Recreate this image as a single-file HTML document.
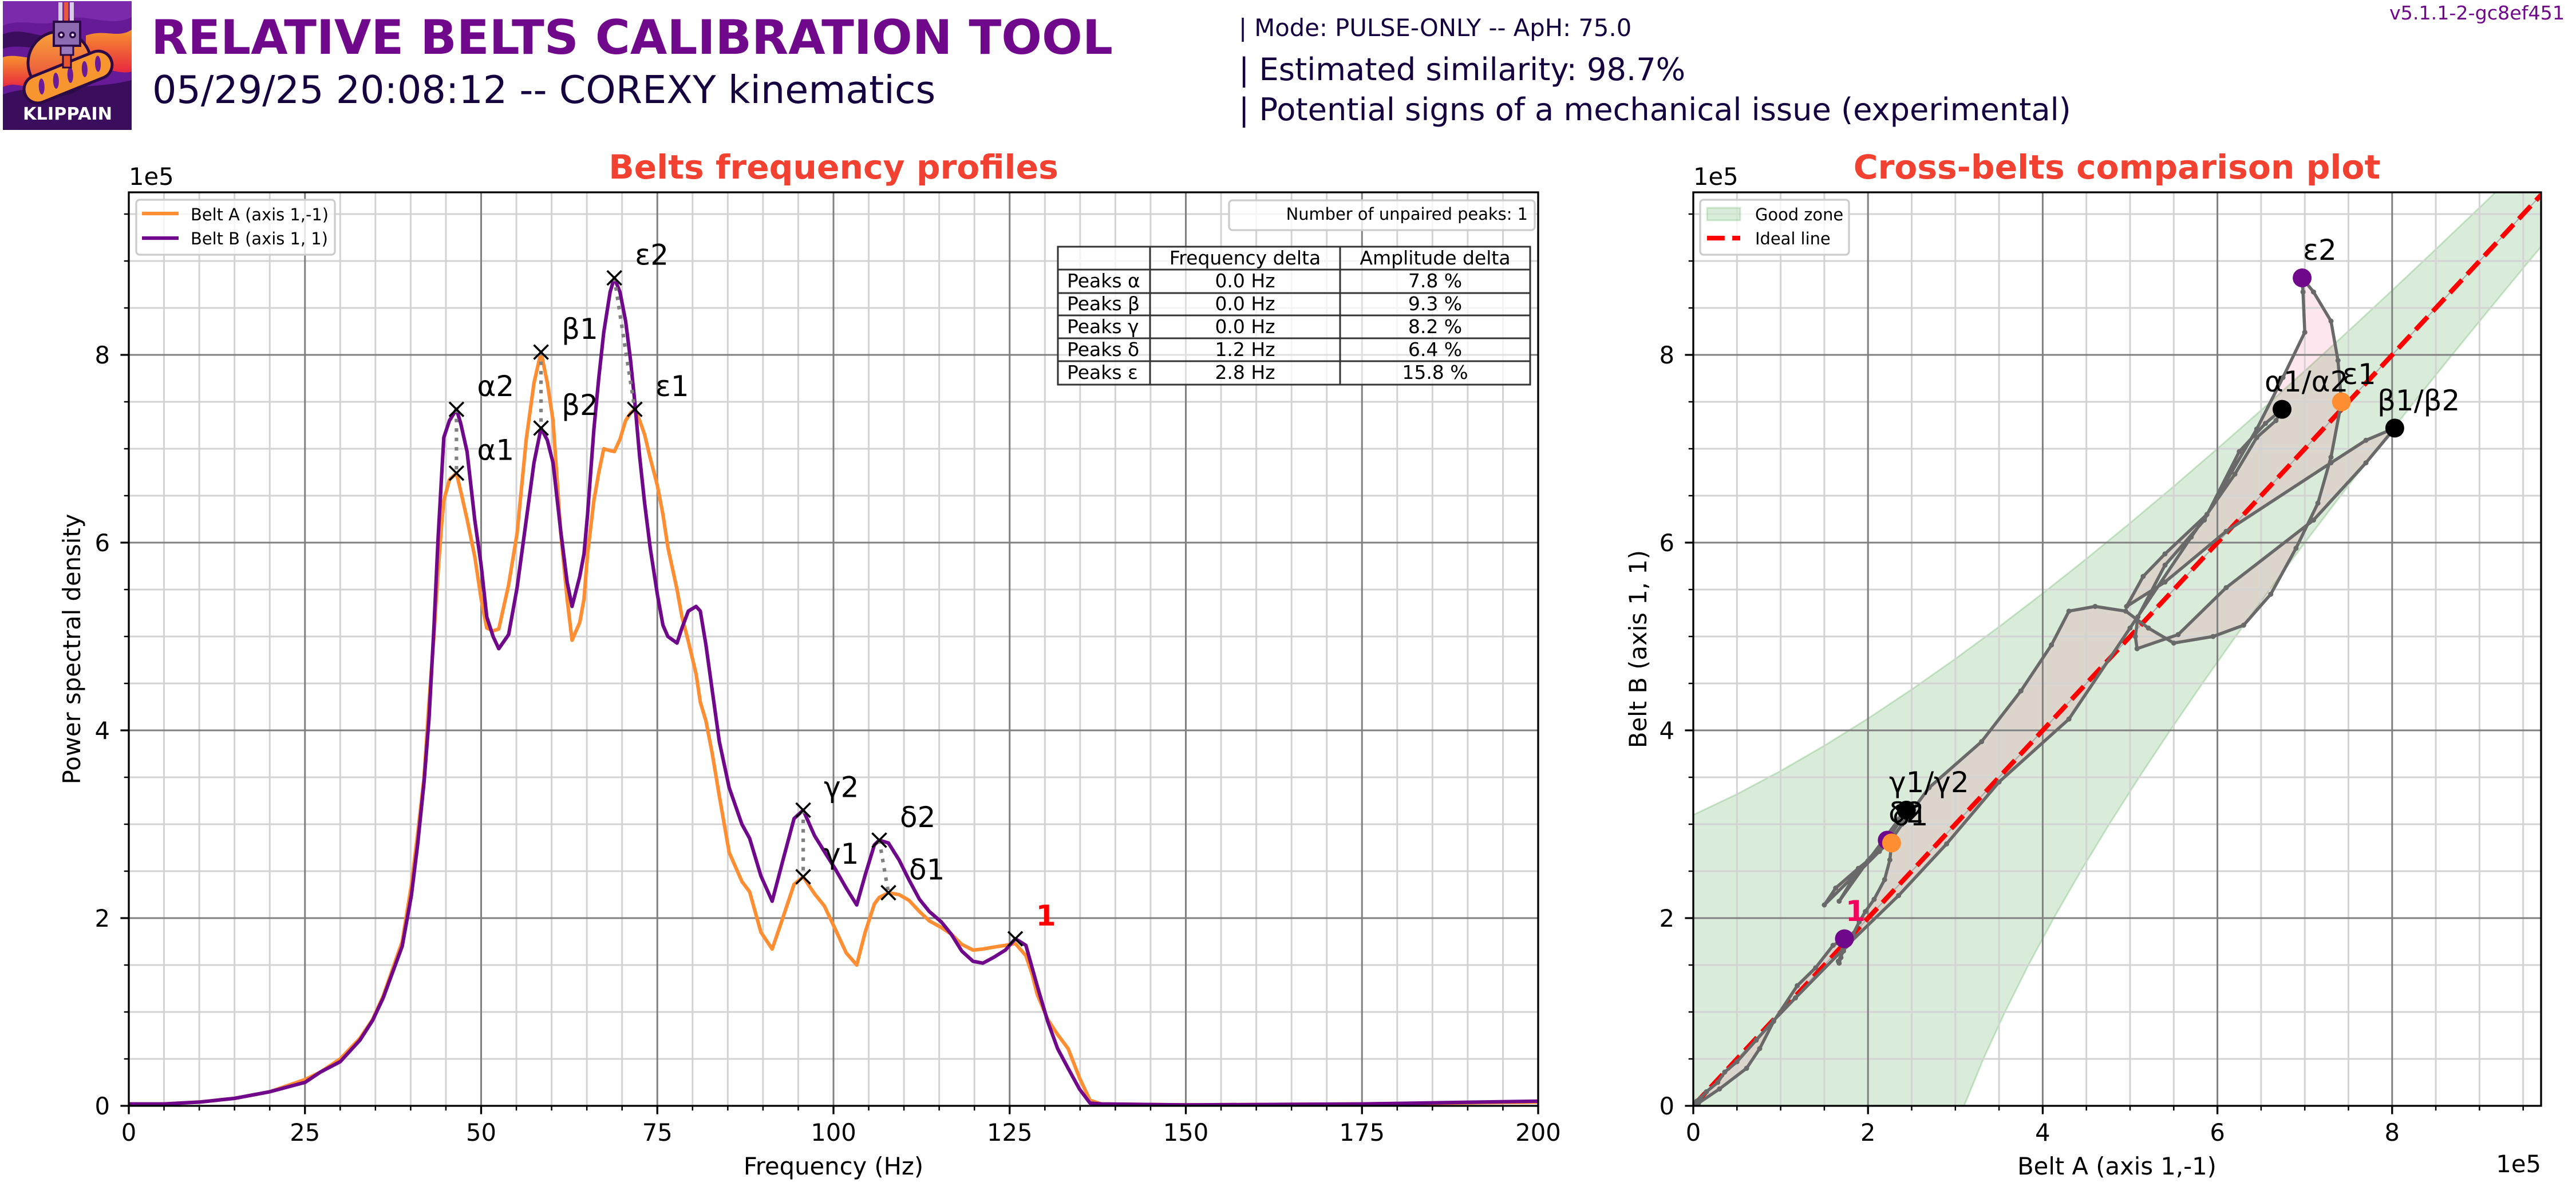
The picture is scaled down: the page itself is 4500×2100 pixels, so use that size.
<!DOCTYPE html>
<html>
<head>
<meta charset="utf-8">
<style>
html,body{margin:0;padding:0;background:#fff;}
svg{display:block;}
text{font-family:"DejaVu Sans","Liberation Sans",sans-serif;}
.tk{font-size:41.7px;fill:#000;}
.lg{font-size:28.9px;fill:#000;}
.tb{font-size:33px;fill:#000;}
.pk{font-size:50px;fill:#000;}
</style>
</head>
<body>
<svg width="4500" height="2100" viewBox="0 0 4500 2100" xmlns="http://www.w3.org/2000/svg">
<defs>
<clipPath id="cl"><rect x="225" y="336" width="2462" height="1596"/></clipPath>
<clipPath id="cr"><rect x="2958" y="336" width="1481" height="1596"/></clipPath>
<clipPath id="clogo"><rect x="5" y="2" width="225" height="225"/></clipPath>
<linearGradient id="gcirc" x1="0" y1="0" x2="0" y2="1"><stop offset="0" stop-color="#F9A43A"/><stop offset="1" stop-color="#E53A3C"/></linearGradient>
<linearGradient id="gband" x1="0" y1="0" x2="0" y2="1"><stop offset="0" stop-color="#F7922F"/><stop offset="1" stop-color="#E8283F"/></linearGradient>
<marker id="gd" viewBox="-5 -5 10 10" markerWidth="10" markerHeight="10" markerUnits="userSpaceOnUse" refX="0" refY="0"><circle r="4.5" fill="#696969"/></marker>
</defs>
<rect x="0" y="0" width="4500" height="2100" fill="#fff"/>

<!-- LOGO -->
<g clip-path="url(#clogo)">
<rect x="5" y="2" width="225" height="225" fill="#661A96"/>
<path d="M5,2 L230,2 L230,30 C190,50 150,20 110,35 C70,50 40,30 5,45 Z" fill="#7A2AAA"/>
<path d="M5,60 C40,45 70,70 95,60 L95,80 C60,90 35,75 5,85 Z" fill="#3B0D5E"/>
<path d="M5,100 C30,92 55,108 75,98 L75,150 C50,160 30,140 5,152 Z" fill="url(#gband)"/>
<path d="M150,62 C185,50 205,68 230,52 L230,125 C205,132 180,112 150,122 Z" fill="url(#gband)"/>
<path d="M5,165 C60,145 150,160 230,140 L230,227 L5,227 Z" fill="#3A0E5C"/>
<circle cx="104" cy="110" r="55" fill="url(#gcirc)" stroke="#2B0A45" stroke-width="5"/>
<g transform="rotate(-22 118 135)">
<rect x="38" y="111" width="162" height="48" rx="24" fill="#F7952F" stroke="#2B0A45" stroke-width="5"/>
<ellipse cx="70" cy="133" rx="5" ry="14" fill="#6A1B9A" transform="rotate(20 70 133)"/>
<ellipse cx="97" cy="133" rx="5" ry="14" fill="#6A1B9A" transform="rotate(20 97 133)"/>
<ellipse cx="124" cy="133" rx="5" ry="14" fill="#6A1B9A" transform="rotate(20 124 133)"/>
<ellipse cx="151" cy="133" rx="5" ry="14" fill="#6A1B9A" transform="rotate(20 151 133)"/>
<ellipse cx="176" cy="133" rx="5" ry="14" fill="#6A1B9A" transform="rotate(20 176 133)"/>
</g>
<rect x="102" y="4" width="7" height="36" fill="#D9C8EA"/>
<rect x="112" y="4" width="7" height="36" fill="#E8583A"/>
<rect x="122" y="4" width="7" height="36" fill="#D9C8EA"/>
<rect x="94" y="38" width="46" height="42" fill="#8C6BB0" stroke="#2B0A45" stroke-width="4"/>
<circle cx="107" cy="61" r="6" fill="#2B0A45"/><circle cx="107" cy="61" r="2.5" fill="#E8DDF2"/>
<circle cx="127" cy="61" r="6" fill="#2B0A45"/><circle cx="127" cy="61" r="2.5" fill="#E8DDF2"/>
<rect x="106" y="80" width="22" height="16" fill="#9A7ABD" stroke="#2B0A45" stroke-width="3"/>
<rect x="110" y="96" width="14" height="22" fill="#E8542E" stroke="#2B0A45" stroke-width="3"/>
<text x="118" y="209" text-anchor="middle" font-size="30" font-weight="bold" fill="#fff" textLength="156" lengthAdjust="spacingAndGlyphs">KLIPPAIN</text>
</g>

<!-- HEADER -->
<text x="264" y="94" font-size="83.3" font-weight="bold" fill="#70088C">RELATIVE BELTS CALIBRATION TOOL</text>
<text x="266" y="180" font-size="66.7" fill="#150140">05/29/25 20:08:12 -- COREXY kinematics</text>
<text x="2164" y="63" font-size="41.7" fill="#150140">| Mode: PULSE-ONLY -- ApH: 75.0</text>
<text x="2164" y="140" font-size="54.2" fill="#150140">| Estimated similarity: 98.7%</text>
<text x="2164" y="210" font-size="54.2" fill="#150140">| Potential signs of a mechanical issue (experimental)</text>
<text x="4480" y="34" font-size="33.3" fill="#70088C" text-anchor="end">v5.1.1-2-gc8ef451</text>

<!-- ================= LEFT PLOT ================= -->
<text x="1456" y="312" font-size="58.3" font-weight="bold" fill="#F24130" text-anchor="middle">Belts frequency profiles</text>
<text class="tk" x="225" y="323">1e5</text>

<!-- grid -->
<path fill="none" stroke="#D3D3D3" stroke-width="3" d="M286.55 336V1932M348.1 336V1932M409.65 336V1932M471.2 336V1932M594.3 336V1932M655.85 336V1932M717.4 336V1932M778.95 336V1932M902.05 336V1932M963.6 336V1932M1025.15 336V1932M1086.7 336V1932M1209.8 336V1932M1271.35 336V1932M1332.9 336V1932M1394.45 336V1932M1517.55 336V1932M1579.1 336V1932M1640.65 336V1932M1702.2 336V1932M1825.3 336V1932M1886.85 336V1932M1948.4 336V1932M2009.95 336V1932M2133.05 336V1932M2194.6 336V1932M2256.15 336V1932M2317.7 336V1932M2440.8 336V1932M2502.35 336V1932M2563.9 336V1932M2625.45 336V1932M225 1850H2687M225 1768H2687M225 1686H2687M225 1522H2687M225 1440H2687M225 1358H2687M225 1194H2687M225 1112H2687M225 1030H2687M225 866H2687M225 784H2687M225 702H2687M225 538H2687M225 456H2687M225 374H2687"/>
<path fill="none" stroke="#808080" stroke-width="3" d="M532.75 336V1932M840.5 336V1932M1148.25 336V1932M1456 336V1932M1763.75 336V1932M2071.5 336V1932M2379.25 336V1932M225 1604H2687M225 1276H2687M225 948H2687M225 620H2687"/>

<g clip-path="url(#cl)">
<polyline fill="none" stroke="#FF8D32" stroke-width="6.2" stroke-linejoin="round" points="225,1928.7 286.6,1928.7 348.1,1925.4 409.7,1918.9 471.2,1907.4 532.8,1886.1 559.8,1873 594.3,1850 628.8,1813.9 650.9,1781.1 669.4,1740.1 702.6,1645 718.6,1546.6 729.7,1456.4 740.8,1358 749.4,1226.8 758,1112 765.4,997.2 771.6,915.2 775.3,874.2 785.1,838.1 797.4,826.6 804.8,857.8 815.9,907 829.4,972.6 840.5,1046.4 850.3,1097.2 861.4,1102.2 871.3,1098.9 888.5,1021.8 903.3,931.6 919.3,767.6 932.8,669.2 945.1,615.1 956.2,669.2 966.1,734.8 979.6,931.6 990.7,1046.4 999.3,1118.6 1012.8,1087.4 1020.2,1046.4 1026.4,967.7 1037.5,874.2 1046.1,825 1054.7,784 1065.8,787.3 1073.2,788.9 1083,767.6 1092.9,734.8 1101.5,721.7 1108.9,715.1 1117.5,734.8 1126.1,759.4 1135.9,800.4 1148.3,848 1158.1,898.8 1166.7,956.2 1182.7,1030 1191.3,1077.6 1202.4,1120.2 1216,1177.6 1223.4,1226.8 1233.2,1259.6 1244.3,1317 1256.6,1390.8 1273.8,1489.2 1296,1540 1309.5,1558.1 1329.2,1628.6 1348.9,1658.1 1367.4,1604 1387.1,1545 1403.1,1531.8 1422.8,1561.4 1440,1582.7 1458.5,1622 1478.2,1664.7 1496.6,1686 1511.4,1628.6 1527.4,1579.4 1536,1567.9 1552,1559.7 1570.5,1563 1587.7,1572.8 1606.2,1592.5 1623.4,1608.9 1644.3,1620.4 1661.6,1631.9 1680,1649.9 1699.7,1659.8 1717,1658.1 1735.4,1654.8 1756.4,1651.6 1773.6,1648.3 1792.1,1669.6 1803.1,1702.4 1811.8,1736.8 1830.2,1781.1 1847.5,1807.4 1865.9,1832 1885.6,1882.8 1904.1,1922.2 1923.8,1928.7 2071.5,1930.4 2379.3,1928.7 2687,1925.4"/>
<polyline fill="none" stroke="#70088C" stroke-width="6.2" stroke-linejoin="round" points="225,1928.7 286.6,1928.7 348.1,1925.4 409.7,1918.9 471.2,1907.4 532.8,1891 559.8,1873 594.3,1854.9 628.8,1817.2 650.9,1782.8 669.4,1743.4 702.6,1653.2 718.6,1564.6 729.7,1474.4 740.8,1366.2 749.4,1256.3 758,1097.2 765.4,938.2 771.6,828.3 775.3,764.3 785.1,734.8 797.4,715.1 804.8,739.7 815.9,788.9 829.4,908.6 840.5,987.4 850.3,1077.6 861.4,1112 871.3,1133.3 888.5,1108.7 903.3,1026.7 919.3,908.6 932.8,808.6 945.1,747.9 956.2,769.2 966.1,808.6 979.6,928.3 990.7,1016.9 999.3,1059.5 1012.8,1007 1020.2,967.7 1026.4,898.8 1037.5,749.6 1046.1,659.4 1054.7,580.6 1065.8,510.1 1073.2,485.5 1083,510.1 1092.9,561 1101.5,629.8 1108.9,702 1117.5,798.8 1126.1,879.1 1135.9,957.8 1148.3,1038.2 1158.1,1092.3 1166.7,1112 1182.7,1123.5 1191.3,1097.2 1202.4,1067.7 1216,1059.5 1223.4,1067.7 1233.2,1126.8 1244.3,1207.1 1256.6,1295.7 1273.8,1376 1296,1440 1309.5,1464.6 1329.2,1530.2 1348.9,1574.5 1367.4,1504 1387.1,1430.2 1403.1,1415.4 1422.8,1459.7 1440,1487.6 1458.5,1517.1 1478.2,1551.5 1496.6,1581 1511.4,1528.6 1527.4,1476.1 1536,1467.9 1552,1472.8 1570.5,1502.3 1587.7,1536.8 1606.2,1571.2 1623.4,1592.5 1644.3,1610.6 1661.6,1631.9 1680,1661.4 1699.7,1679.4 1717,1682.7 1735.4,1672.9 1756.4,1659.8 1773.6,1640.1 1792.1,1651.6 1803.1,1690.9 1811.8,1722.1 1830.2,1784.4 1847.5,1832 1865.9,1866.4 1885.6,1902.5 1904.1,1927.1 1923.8,1928.7 2071.5,1930.4 2379.3,1928.7 2687,1923.8"/>
<!-- dotted connectors -->
<path fill="none" stroke="#808080" stroke-width="6.2" stroke-dasharray="6.2 10.3" d="M797.4 715.1L797.4 826.6M945.1 615.1L945.1 747.9M1403.1 1415.4L1403.1 1531.8M1536 1467.9L1552 1559.7M1073.2 485.5L1108.9 715.1"/>
<!-- x markers -->
<path fill="none" stroke="#000" stroke-width="3.6" d="M784.9 814.1l25 25m0 -25l-25 25M784.9 702.6l25 25m0 -25l-25 25M932.6 602.6l25 25m0 -25l-25 25M932.6 735.4l25 25m0 -25l-25 25M1390.6 1519.3l25 25m0 -25l-25 25M1390.6 1402.9l25 25m0 -25l-25 25M1539.5 1547.2l25 25m0 -25l-25 25M1523.5 1455.4l25 25m0 -25l-25 25M1096.4 702.6l25 25m0 -25l-25 25M1060.7 473l25 25m0 -25l-25 25M1761.1 1627.6l25 25m0 -25l-25 25"/>
</g>
<text class="pk" x="833.4" y="803.6">α1</text>
<text class="pk" x="833.4" y="692.1">α2</text>
<text class="pk" x="981.1" y="592.1">β1</text>
<text class="pk" x="981.1" y="724.9">β2</text>
<text class="pk" x="1439.1" y="1508.8">γ1</text>
<text class="pk" x="1439.1" y="1392.4">γ2</text>
<text class="pk" x="1588" y="1536.7">δ1</text>
<text class="pk" x="1572" y="1444.9">δ2</text>
<text class="pk" x="1144.9" y="692.1">ε1</text>
<text class="pk" x="1109.2" y="462.5">ε2</text>
<text x="1809.6" y="1617.1" font-size="50" font-weight="bold" fill="#FF0000">1</text>

<!-- legend left -->
<rect x="238" y="349" width="347" height="96" rx="6" fill="#fff" fill-opacity="0.8" stroke="#CCCCCC" stroke-width="3.3"/>
<line x1="248" y1="373" x2="312" y2="373" stroke="#FF8D32" stroke-width="6.2"/>
<line x1="248" y1="416" x2="312" y2="416" stroke="#70088C" stroke-width="6.2"/>
<text class="lg" x="333" y="385">Belt A (axis 1,-1)</text>
<text class="lg" x="333" y="427">Belt B (axis 1, 1)</text>

<!-- unpaired legend -->
<rect x="2147" y="350" width="534" height="52" rx="6" fill="#fff" fill-opacity="0.8" stroke="#CCCCCC" stroke-width="3.3"/>
<text class="lg" x="2669" y="384" text-anchor="end">Number of unpaired peaks: 1</text>

<!-- table -->
<rect x="1848" y="431" width="825" height="241" fill="#fff" fill-opacity="0.75"/>
<path fill="none" stroke="#333" stroke-width="3" d="M1848 431H2673V672H1848ZM2009 431V672M2341 431V672M1848 471H2673M1848 512H2673M1848 551H2673M1848 591H2673M1848 631H2673"/>
<text class="tb" x="2175" y="462" text-anchor="middle">Frequency delta</text>
<text class="tb" x="2507" y="462" text-anchor="middle">Amplitude delta</text>
<text class="tb" x="1864" y="502">Peaks α</text>
<text class="tb" x="1864" y="542">Peaks β</text>
<text class="tb" x="1864" y="582">Peaks γ</text>
<text class="tb" x="1864" y="622">Peaks δ</text>
<text class="tb" x="1864" y="662">Peaks ε</text>
<text class="tb" x="2175" y="502" text-anchor="middle">0.0 Hz</text>
<text class="tb" x="2175" y="542" text-anchor="middle">0.0 Hz</text>
<text class="tb" x="2175" y="582" text-anchor="middle">0.0 Hz</text>
<text class="tb" x="2175" y="622" text-anchor="middle">1.2 Hz</text>
<text class="tb" x="2175" y="662" text-anchor="middle">2.8 Hz</text>
<text class="tb" x="2507" y="502" text-anchor="middle">7.8 %</text>
<text class="tb" x="2507" y="542" text-anchor="middle">9.3 %</text>
<text class="tb" x="2507" y="582" text-anchor="middle">8.2 %</text>
<text class="tb" x="2507" y="622" text-anchor="middle">6.4 %</text>
<text class="tb" x="2507" y="662" text-anchor="middle">15.8 %</text>

<!-- spines & ticks -->
<rect x="225" y="336" width="2462" height="1596" fill="none" stroke="#000" stroke-width="3.3"/>
<path fill="none" stroke="#000" stroke-width="3.3" d="M225 1932v14.6M532.75 1932v14.6M840.5 1932v14.6M1148.25 1932v14.6M1456 1932v14.6M1763.75 1932v14.6M2071.5 1932v14.6M2379.25 1932v14.6M2687 1932v14.6M225 1932h-14.6M225 1604h-14.6M225 1276h-14.6M225 948h-14.6M225 620h-14.6"/>
<path fill="none" stroke="#000" stroke-width="2.5" d="M286.55 1932v8.3M348.1 1932v8.3M409.65 1932v8.3M471.2 1932v8.3M594.3 1932v8.3M655.85 1932v8.3M717.4 1932v8.3M778.95 1932v8.3M902.05 1932v8.3M963.6 1932v8.3M1025.15 1932v8.3M1086.7 1932v8.3M1209.8 1932v8.3M1271.35 1932v8.3M1332.9 1932v8.3M1394.45 1932v8.3M1517.55 1932v8.3M1579.1 1932v8.3M1640.65 1932v8.3M1702.2 1932v8.3M1825.3 1932v8.3M1886.85 1932v8.3M1948.4 1932v8.3M2009.95 1932v8.3M2133.05 1932v8.3M2194.6 1932v8.3M2256.15 1932v8.3M2317.7 1932v8.3M2440.8 1932v8.3M2502.35 1932v8.3M2563.9 1932v8.3M2625.45 1932v8.3M225 1850h-8.3M225 1768h-8.3M225 1686h-8.3M225 1522h-8.3M225 1440h-8.3M225 1358h-8.3M225 1194h-8.3M225 1112h-8.3M225 1030h-8.3M225 866h-8.3M225 784h-8.3M225 702h-8.3M225 538h-8.3M225 456h-8.3M225 374h-8.3"/>
<g class="tk" text-anchor="middle">
<text x="225" y="1993">0</text><text x="532.75" y="1993">25</text><text x="840.5" y="1993">50</text><text x="1148.25" y="1993">75</text><text x="1456" y="1993">100</text><text x="1763.75" y="1993">125</text><text x="2071.5" y="1993">150</text><text x="2379.25" y="1993">175</text><text x="2687" y="1993">200</text>
</g>
<g class="tk" text-anchor="end">
<text x="192" y="1947">0</text><text x="192" y="1619">2</text><text x="192" y="1291">4</text><text x="192" y="963">6</text><text x="192" y="635">8</text>
</g>
<text class="tk" x="1456" y="2052" text-anchor="middle">Frequency (Hz)</text>
<text class="tk" x="0" y="0" text-anchor="middle" transform="translate(140 1134) rotate(-90)">Power spectral density</text>

<!-- ================= RIGHT PLOT ================= -->
<text x="3698" y="312" font-size="58.3" font-weight="bold" fill="#F24130" text-anchor="middle">Cross-belts comparison plot</text>
<text class="tk" x="2958" y="323">1e5</text>

<g clip-path="url(#cr)">
<!-- good zone -->
<path fill="#008000" fill-opacity="0.15" d="M2958,1932 L2958,1423.6 L3034.3,1387.4 L3110.6,1346.8 L3186.9,1302.7 L3263.2,1255.2 L3339.5,1204.5 L3415.8,1151 L3492.1,1094.9 L3568.4,1036.6 L3644.7,976.2 L3721,913.7 L3797.3,849.6 L3873.6,783.8 L3949.9,716.6 L4026.2,647.9 L4102.5,578.2 L4178.8,507.3 L4255.1,435.3 L4331.4,362.7 L4407.7,289 L4490,289 L4490,374 L4486.7,374 L4418.2,456 L4350.6,538 L4283.6,620 L4217.7,702 L4152.9,784 L4088.9,866 L4026.4,948 L3965.2,1030 L3905.5,1112 L3847.4,1194 L3791.2,1276 L3736.9,1358 L3684.7,1440 L3634.9,1522 L3587.8,1604 L3543.5,1686 L3502.5,1768 L3464.8,1850 L3431.1,1932 Z"/>
<path fill="none" stroke="#008000" stroke-opacity="0.18" stroke-width="3" d="M2958,1423.6 L3034.3,1387.4 L3110.6,1346.8 L3186.9,1302.7 L3263.2,1255.2 L3339.5,1204.5 L3415.8,1151 L3492.1,1094.9 L3568.4,1036.6 L3644.7,976.2 L3721,913.7 L3797.3,849.6 L3873.6,783.8 L3949.9,716.6 L4026.2,647.9 L4102.5,578.2 L4178.8,507.3 L4255.1,435.3 L4331.4,362.7 L4407.7,289 M4486.7,374 L4418.2,456 L4350.6,538 L4283.6,620 L4217.7,702 L4152.9,784 L4088.9,866 L4026.4,948 L3965.2,1030 L3905.5,1112 L3847.4,1194 L3791.2,1276 L3736.9,1358 L3684.7,1440 L3634.9,1522 L3587.8,1604 L3543.5,1686 L3502.5,1768 L3464.8,1850 L3431.1,1932"/>
<!-- pink fill -->
<polygon fill="#F2055C" fill-opacity="0.1" fill-rule="nonzero" points="2961.1,1928.7 2964.1,1925.4 2970.2,1918.9 2980.9,1907.4 3000.7,1891 3012.9,1873 3034.3,1854.9 3067.9,1817.2 3098.4,1782.8 3136.5,1743.4 3225.1,1653.2 3316.6,1564.6 3400.5,1474.4 3492.1,1366.2 3614.2,1256.3 3721,1097.2 3827.8,938.2 3904.1,828.3 3942.3,764.3 3975.8,734.8 3986.5,715.1 3957.5,739.7 3911.8,788.9 3850.7,908.6 3782,987.4 3734.7,1077.6 3730.2,1112 3733.2,1133.3 3805,1108.7 3888.9,1026.7 4041.5,908.6 4133,808.6 4183.4,747.9 4133,769.2 4072,808.6 3888.9,928.3 3782,1016.9 3714.9,1059.5 3743.9,1007 3782,967.7 3855.3,898.8 3942.3,749.6 3988.1,659.4 4026.2,580.6 4023.1,510.1 4021.6,485.5 4041.5,510.1 4072,561 4084.2,629.8 4090.3,702 4072,798.8 4049.1,879.1 4010.9,957.8 3966.7,1038.2 3919.4,1092.3 3866,1112 3797.3,1123.5 3753,1097.2 3713.4,1067.7 3660,1059.5 3614.2,1067.7 3583.7,1126.8 3530.3,1207.1 3461.6,1295.7 3370,1376 3322.7,1440 3305.9,1464.6 3240.3,1530.2 3212.8,1574.5 3263.2,1504 3318.1,1430.2 3330.3,1415.4 3302.9,1459.7 3283,1487.6 3246.4,1517.1 3206.7,1551.5 3186.9,1581 3240.3,1528.6 3286.1,1476.1 3296.8,1467.9 3304.4,1472.8 3301.4,1502.3 3292.2,1536.8 3273.9,1571.2 3258.6,1592.5 3247.9,1610.6 3237.3,1631.9 3220.5,1661.4 3211.3,1679.4 3212.8,1682.7 3215.9,1672.9 3219,1659.8 3222,1640.1 3202.2,1651.6 3171.6,1690.9 3139.6,1722.1 3098.4,1784.4 3074,1832 3051.1,1866.4 3003.8,1902.5 2967.2,1927.1 2961.1,1928.7"/>
</g>

<!-- right grid -->
<path fill="none" stroke="#D3D3D3" stroke-width="3" d="M3034.3 336V1932M3110.6 336V1932M3186.9 336V1932M3339.5 336V1932M3415.8 336V1932M3492.1 336V1932M3644.7 336V1932M3721 336V1932M3797.3 336V1932M3949.9 336V1932M4026.2 336V1932M4102.5 336V1932M4255.1 336V1932M4331.4 336V1932M4407.7 336V1932M2958 1850H4439M2958 1768H4439M2958 1686H4439M2958 1522H4439M2958 1440H4439M2958 1358H4439M2958 1194H4439M2958 1112H4439M2958 1030H4439M2958 866H4439M2958 784H4439M2958 702H4439M2958 538H4439M2958 456H4439M2958 374H4439"/>
<path fill="none" stroke="#808080" stroke-width="3" d="M3263.2 336V1932M3568.4 336V1932M3873.6 336V1932M4178.8 336V1932M2958 1604H4439M2958 1276H4439M2958 948H4439M2958 620H4439"/>

<g clip-path="url(#cr)">
<line x1="2958" y1="1932" x2="4439" y2="340.5" stroke="#AAAAAA" stroke-width="2"/>
<line x1="2958" y1="1932" x2="4439" y2="340.5" stroke="#FF0000" stroke-width="8.3" stroke-dasharray="30.8 13.3"/>
<polyline fill="none" stroke="#696969" stroke-width="5.5" stroke-linejoin="round" marker-start="url(#gd)" marker-mid="url(#gd)" marker-end="url(#gd)" points="2961.1,1928.7 2964.1,1925.4 2970.2,1918.9 2980.9,1907.4 3000.7,1891 3012.9,1873 3034.3,1854.9 3067.9,1817.2 3098.4,1782.8 3136.5,1743.4 3225.1,1653.2 3316.6,1564.6 3400.5,1474.4 3492.1,1366.2 3614.2,1256.3 3721,1097.2 3827.8,938.2 3904.1,828.3 3942.3,764.3 3975.8,734.8 3986.5,715.1 3957.5,739.7 3911.8,788.9 3850.7,908.6 3782,987.4 3734.7,1077.6 3730.2,1112 3733.2,1133.3 3805,1108.7 3888.9,1026.7 4041.5,908.6 4133,808.6 4183.4,747.9 4133,769.2 4072,808.6 3888.9,928.3 3782,1016.9 3714.9,1059.5 3743.9,1007 3782,967.7 3855.3,898.8 3942.3,749.6 3988.1,659.4 4026.2,580.6 4023.1,510.1 4021.6,485.5 4041.5,510.1 4072,561 4084.2,629.8 4090.3,702 4072,798.8 4049.1,879.1 4010.9,957.8 3966.7,1038.2 3919.4,1092.3 3866,1112 3797.3,1123.5 3753,1097.2 3713.4,1067.7 3660,1059.5 3614.2,1067.7 3583.7,1126.8 3530.3,1207.1 3461.6,1295.7 3370,1376 3322.7,1440 3305.9,1464.6 3240.3,1530.2 3212.8,1574.5 3263.2,1504 3318.1,1430.2 3330.3,1415.4 3302.9,1459.7 3283,1487.6 3246.4,1517.1 3206.7,1551.5 3186.9,1581 3240.3,1528.6 3286.1,1476.1 3296.8,1467.9 3304.4,1472.8 3301.4,1502.3 3292.2,1536.8 3273.9,1571.2 3258.6,1592.5 3247.9,1610.6 3237.3,1631.9 3220.5,1661.4 3211.3,1679.4 3212.8,1682.7 3215.9,1672.9 3219,1659.8 3222,1640.1 3202.2,1651.6 3171.6,1690.9 3139.6,1722.1 3098.4,1784.4 3074,1832 3051.1,1866.4 3003.8,1902.5 2967.2,1927.1 2961.1,1928.7 2959.5,1930.4 2961.1,1928.7 2964.1,1923.8"/>
<!-- peak dots -->
<circle cx="3986.5" cy="715.1" r="16.5" fill="#000"/>
<circle cx="4183.4" cy="747.9" r="16.5" fill="#000"/>
<circle cx="3330.3" cy="1415.4" r="16.5" fill="#000"/>
<circle cx="3296.8" cy="1467.9" r="16.5" fill="#70088C"/>
<circle cx="3304.4" cy="1472.8" r="16.5" fill="#FF8D32"/>
<circle cx="4021.6" cy="485.5" r="16.5" fill="#70088C"/>
<circle cx="4090.3" cy="702" r="16.5" fill="#FF8D32"/>
<circle cx="3222" cy="1640.1" r="16.5" fill="#70088C"/>
</g>
<text class="pk" x="3956" y="684">α1/α2</text>
<text class="pk" x="4153" y="717">β1/β2</text>
<text class="pk" x="3300" y="1384">γ1/γ2</text>
<text class="pk" x="4092" y="671">ε1</text>
<text class="pk" x="4023" y="454">ε2</text>
<text class="pk" x="3299" y="1437">δ2</text>
<text class="pk" x="3306" y="1442">δ1</text>
<text x="3224" y="1609" font-size="50" font-weight="bold" fill="#F2055C">1</text>

<!-- right legend -->
<rect x="2970" y="349" width="260" height="96" rx="6" fill="#fff" fill-opacity="0.8" stroke="#CCCCCC" stroke-width="3.3"/>
<rect x="2982" y="363" width="58" height="22" fill="#008000" fill-opacity="0.15" stroke="#008000" stroke-opacity="0.15" stroke-width="3"/>
<line x1="2982" y1="416" x2="3040" y2="416" stroke="#FF0000" stroke-width="8.3" stroke-dasharray="30.8 13.3"/>
<text class="lg" x="3066" y="385">Good zone</text>
<text class="lg" x="3066" y="427">Ideal line</text>

<!-- right spines & ticks -->
<rect x="2958" y="336" width="1481" height="1596" fill="none" stroke="#000" stroke-width="3.3"/>
<path fill="none" stroke="#000" stroke-width="3.3" d="M2958 1932v14.6M3263.2 1932v14.6M3568.4 1932v14.6M3873.6 1932v14.6M4178.8 1932v14.6M2958 1932h-14.6M2958 1604h-14.6M2958 1276h-14.6M2958 948h-14.6M2958 620h-14.6"/>
<path fill="none" stroke="#000" stroke-width="2.5" d="M3034.3 1932v8.3M3110.6 1932v8.3M3186.9 1932v8.3M3339.5 1932v8.3M3415.8 1932v8.3M3492.1 1932v8.3M3644.7 1932v8.3M3721 1932v8.3M3797.3 1932v8.3M3949.9 1932v8.3M4026.2 1932v8.3M4102.5 1932v8.3M4255.1 1932v8.3M4331.4 1932v8.3M4407.7 1932v8.3M2958 1850h-8.3M2958 1768h-8.3M2958 1686h-8.3M2958 1522h-8.3M2958 1440h-8.3M2958 1358h-8.3M2958 1194h-8.3M2958 1112h-8.3M2958 1030h-8.3M2958 866h-8.3M2958 784h-8.3M2958 702h-8.3M2958 538h-8.3M2958 456h-8.3M2958 374h-8.3"/>
<g class="tk" text-anchor="middle">
<text x="2958" y="1993">0</text><text x="3263.2" y="1993">2</text><text x="3568.4" y="1993">4</text><text x="3873.6" y="1993">6</text><text x="4178.8" y="1993">8</text>
</g>
<g class="tk" text-anchor="end">
<text x="2925" y="1947">0</text><text x="2925" y="1619">2</text><text x="2925" y="1291">4</text><text x="2925" y="963">6</text><text x="2925" y="635">8</text>
</g>
<text class="tk" x="3698" y="2052" text-anchor="middle">Belt A (axis 1,-1)</text>
<text class="tk" x="4439" y="2048" text-anchor="end">1e5</text>
<text class="tk" x="0" y="0" text-anchor="middle" transform="translate(2876 1134) rotate(-90)">Belt B (axis 1, 1)</text>
</svg>
</body>
</html>
